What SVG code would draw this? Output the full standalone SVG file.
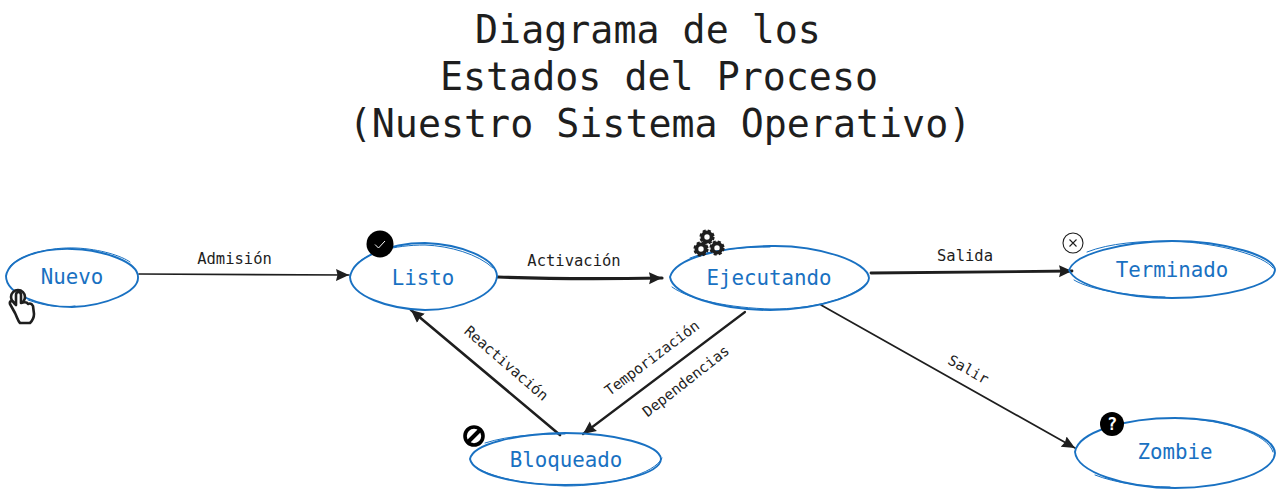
<svg xmlns="http://www.w3.org/2000/svg" width="1280" height="493" viewBox="0 0 1280 493">
<style>
text{font-family:"DejaVu Sans Mono","Liberation Mono",monospace}
.title{font-size:38.300px;fill:#1e1e1e;text-anchor:middle}
.lab{font-size:15.500px;fill:#1e1e1e;text-anchor:middle}
.rot{font-size:14.600px}
.name{font-size:20.800px;fill:#1971c2;text-anchor:middle}
.sk{fill:none;stroke:#1971c2;stroke-width:1.900;stroke-linecap:round}
.sk2{fill:none;stroke:#1971c2;stroke-width:1;stroke-linecap:round}
.c{fill:none;stroke:#1e1e1e;stroke-linecap:round}
</style>
<defs>
<marker id="ah" markerUnits="userSpaceOnUse" markerWidth="14" markerHeight="14" refX="13" refY="7" orient="auto"><path d="M0 1L13 7L0 13L1.500 7Z" fill="#1e1e1e"/></marker>
<g id="gear"><circle r="4.600" fill="none" stroke="#1e1e1e" stroke-width="3.800"/><circle r="6.400" fill="none" stroke="#1e1e1e" stroke-width="2.400" stroke-dasharray="3 2.030"/></g>
</defs>
<g id="title">
<text class="title" x="648" y="43">Diagrama de los</text>
<text class="title" x="659" y="90">Estados del Proceso</text>
<text class="title" x="660" y="137">(Nuestro Sistema Operativo)</text>
</g>
<g id="connectors">
<path class="c" stroke-width="1.700" marker-end="url(#ah)" d="M139 274L349 275"/>
<path class="c" stroke-width="3.200" marker-end="url(#ah)" d="M498 277C550 279 610 279 662 278"/>
<path class="c" stroke-width="2.800" marker-end="url(#ah)" d="M871 273L1072 271"/>
<path class="c" stroke-width="2.200" marker-end="url(#ah)" d="M745 312L583 434"/>
<path class="c" stroke-width="2.600" marker-end="url(#ah)" d="M560 435L411 310"/>
<path class="c" stroke-width="1.700" marker-end="url(#ah)" d="M821 305L1075 448"/>
<text class="lab" x="234.500" y="264">Admisión</text>
<text class="lab" x="574" y="266">Activación</text>
<text class="lab" x="965" y="261">Salida</text>
<text class="lab rot" transform="translate(503 367) rotate(41)">Reactivación</text>
<text class="lab rot" transform="translate(655 362) rotate(-37)">Temporización</text>
<text class="lab rot" transform="translate(689 385) rotate(-38)">Dependencias</text>
<text class="lab rot" transform="translate(966 374) rotate(29)">Salir</text>
</g>
<g id="nuevo">
<path class="sk" d="M6 276C9 258 40 248 72 249C104 250 138 262 138 277C139 292 105 306 72 307C40 307 6 294 6 276Z"/>
<path class="sk2" d="M10 266C22 254 50 247 76 248C100 249 122 256 130 262M28 300C45 306 60 308 75 306"/>
<text class="name" x="72" y="284">Nuevo</text>
<g id="nuevo-icon" fill="#fff" stroke="#1e1e1e" stroke-width="2.600" stroke-linejoin="round" stroke-linecap="round">
<circle cx="18" cy="297" r="7"/>
<path d="M15 313L10 304C9 301 12 300 14 303L16 305V295C16 291 21 291 21 295V303C24 302 27 302 28 304C30 303 32 304 33 306L34 314C34 319 32 321 30 323H20C18 321 17 317 15 313Z"/>
</g>
</g>
<g id="listo">
<path class="sk" d="M350 277C353 258 388 243 425 243C460 244 496 258 497 276C496 294 462 310 425 310C388 309 351 296 350 277Z"/>
<path class="sk2" d="M353 268C365 252 395 245 425 245C450 246 478 254 493 268"/>
<text class="name" x="423" y="285">Listo</text>
<g id="listo-icon"><circle cx="380" cy="244" r="13.500" fill="#000"/><path d="M375 244.500L378.500 248L385 241" fill="none" stroke="#fff" stroke-width="1"/></g>
</g>
<g id="ejecutando">
<path class="sk" d="M670 277C675 258 720 247 770 246C820 245 868 262 869 278C868 293 820 310 770 310C720 310 673 295 670 277Z"/>
<path class="sk2" d="M672 287C690 300 730 308 772 309C810 309 850 300 866 284M690 258C710 250 740 247 770 247"/>
<text class="name" x="769" y="285">Ejecutando</text>
<g id="ejecutando-icon"><use href="#gear" x="707" y="237"/><use href="#gear" x="701" y="249"/><use href="#gear" x="717" y="248"/></g>
</g>
<g id="terminado">
<path class="sk" d="M1069 270C1075 254 1120 242 1172 241C1225 241 1274 256 1275 270C1274 285 1225 298 1172 298C1120 298 1075 285 1069 270Z"/>
<path class="sk2" d="M1087 252C1110 243 1140 241 1172 241C1220 243 1265 256 1273 268M1074 280C1090 290 1130 296 1165 297"/>
<text class="name" x="1172" y="277">Terminado</text>
<g id="terminado-icon"><circle cx="1073" cy="243" r="10" fill="#fff" stroke="#1e1e1e" stroke-width="1.100"/><path d="M1069.500 239.500L1076.500 246.500M1076.500 239.500L1069.500 246.500" stroke="#1e1e1e" stroke-width="1.100"/></g>
</g>
<g id="bloqueado">
<path class="sk" d="M470 459C473 444 515 434 565 433C615 433 660 445 661 459C660 474 615 485 565 485C515 485 473 474 470 459Z"/>
<path class="sk2" d="M472 463C480 475 520 484 565 486C610 486 655 474 662 458M485 443C510 435 540 434 565 434"/>
<text class="name" x="566" y="467">Bloqueado</text>
<g id="bloqueado-icon" fill="none" stroke="#000"><circle cx="474" cy="436" r="9" stroke-width="3.600"/><path d="M468 442L480 430" stroke-width="4"/></g>
</g>
<g id="zombie">
<path class="sk" d="M1075 452C1078 432 1125 418 1175 418C1228 418 1274 436 1275 453C1274 472 1228 488 1175 488C1125 488 1077 472 1075 452Z"/>
<path class="sk2" d="M1180 418C1225 420 1268 434 1273 452M1095 475C1115 483 1145 487 1170 487"/>
<text class="name" x="1175" y="459">Zombie</text>
<g id="zombie-icon"><circle cx="1112" cy="424" r="12" fill="#000"/><text x="1112" y="430" font-size="17" font-weight="700" fill="#fff" text-anchor="middle">?</text></g>
</g>
</svg>
